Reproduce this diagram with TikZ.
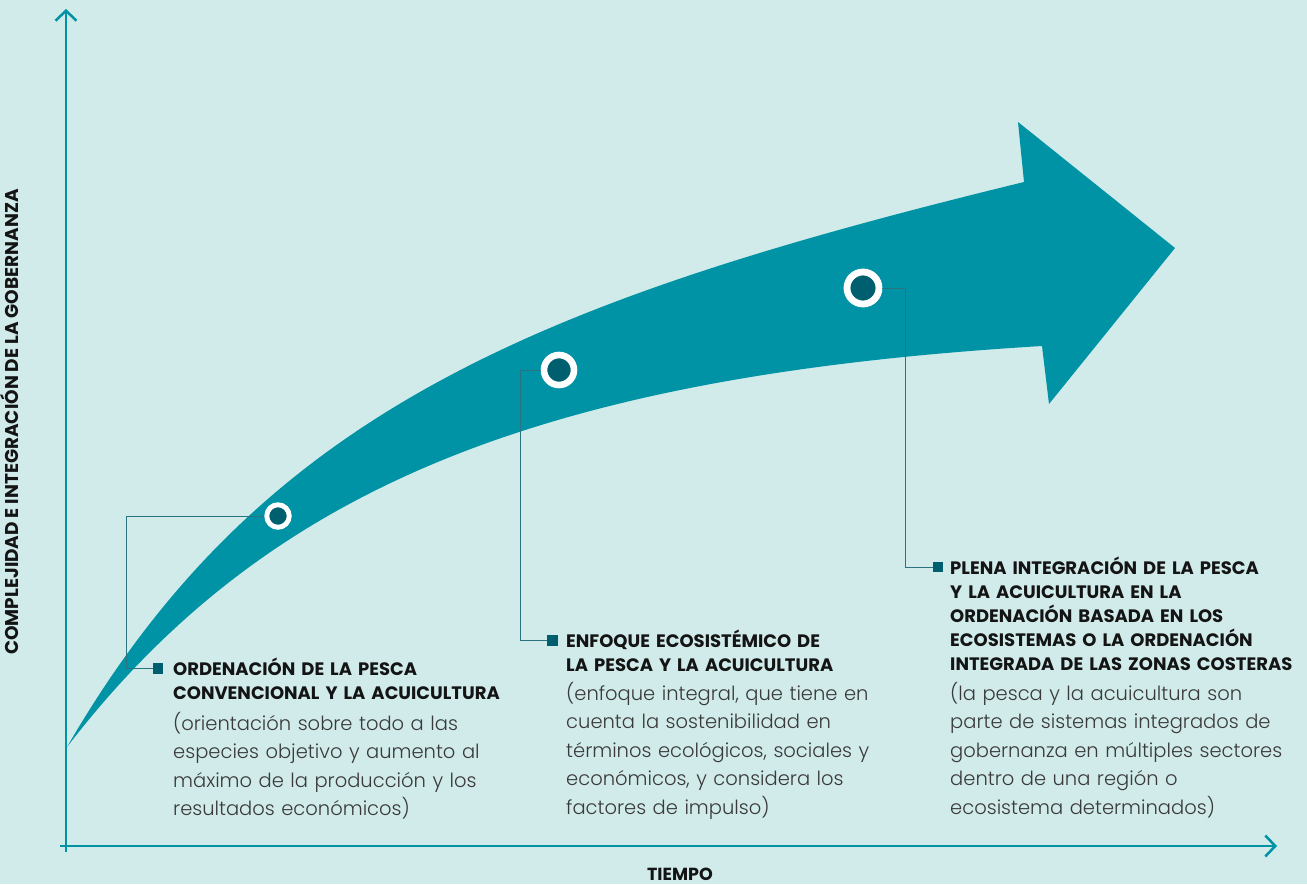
\documentclass[tikz,border=0pt]{standalone}
\usepackage{fontspec}
\setmainfont{Poppins}
\newfontfamily\bodyfont{Poppins Light}
\usetikzlibrary{arrows.meta,positioning}

\definecolor{bgcol}{HTML}{D0EBEA}
\definecolor{bandcol}{HTML}{0093A5}
\definecolor{dotcol}{HTML}{005F6F}
\definecolor{leadcol}{HTML}{2A7480}
\definecolor{titlecol}{HTML}{141414}
\definecolor{bodycol}{HTML}{3A3A3A}

\tikzset{
  axisline/.style={draw=bandcol, line width=2.5pt, -{Straight Barb[length=10pt,width=21pt]}},
  milestone/.style={circle, draw=white, fill=dotcol, inner sep=0pt},
  marker/.style={rectangle, fill=dotcol, minimum size=10.5pt, inner sep=0pt},
  leader/.style={draw=leadcol, line width=1pt},
  headline/.style={anchor=base west, align=left, inner sep=0pt, text width=400pt,
    text=titlecol, font=\bfseries\fontsize{18}{24}\selectfont},
  bodytext/.style={anchor=base west, align=left, inner sep=0pt, text width=400pt,
    text=bodycol, font=\bodyfont\fontsize{19.5}{28.5}\selectfont},
  axislabel/.style={inner sep=0pt, text=titlecol, font=\bfseries\fontsize{18.5}{20}\selectfont}
}

\begin{document}
\begin{tikzpicture}[x=1pt,y=-1pt]
  \fill[bgcol] (0,0) rectangle (1307,884);
  \useasboundingbox (0,0) rectangle (1307,884);

  % flecha curva
  \fill[bandcol] (67,747) .. controls (262,410) and (540,300) .. (1024,182)
    -- (1018,122) -- (1175,248) -- (1049,404) -- (1042,346)
    .. controls (542,376) and (267,487) .. (67,747) -- cycle;

  % ejes
  \coordinate (ybot) at (66,852);
  \coordinate (ytop) at (66,9);
  \coordinate (xleft) at (60,846);
  \coordinate (xright) at (1277,846);
  \draw[axisline] (ybot) -- (ytop);
  \draw[axisline] (xleft) -- (xright);
  \node[axislabel, rotate=90, anchor=base] (ylab) at (18.5,422) {COMPLEJIDAD E INTEGRACIÓN DE LA GOBERNANZA};
  \node[axislabel, anchor=base, font=\bfseries\fontsize{17.5}{20}\selectfont] (xlab) at (680,880) {TIEMPO};

  % hitos
  \node[milestone, line width=4.9pt, minimum size=22.5pt] (m1) at (278,516) {};
  \node[milestone, line width=6.6pt, minimum size=30pt] (m2) at (559,370) {};
  \node[milestone, line width=6.8pt, minimum size=32pt] (m3) at (863,288) {};
  \node[marker] (s1) at (158,668.5) {};
  \node[marker] (s2) at (552.5,640.5) {};
  \node[marker] (s3) at (938,567) {};
  \coordinate (k1) at (126,668.5);
  \coordinate (k2) at (520,640.5);
  \coordinate (k3) at (905,567);
  \draw[leader] (m1.west) -| (k1) -- (s1.west);
  \draw[leader] (m2.west) -| (k2) -- (s2.west);
  \draw[leader] (m3.east) -| (k3) -- (s3.west);

  % textos
  \node[headline] (t1) at (173,675.5) {ORDENACIÓN DE LA PESCA\\CONVENCIONAL Y LA ACUICULTURA};
  \node[bodytext] (b1) at (173,730) {(orientación sobre todo a las\\especies objetivo y aumento al\\máximo de la producción y los\\resultados económicos)};
  \node[headline] (t2) at (566,647.5) {ENFOQUE ECOSISTÉMICO DE\\LA PESCA Y LA ACUICULTURA};
  \node[bodytext] (b2) at (566,700) {(enfoque integral, que tiene en\\cuenta la sostenibilidad en\\términos ecológicos, sociales y\\económicos, y considera los\\factores de impulso)};
  \node[headline] (t3) at (950,574) {PLENA INTEGRACIÓN DE LA PESCA\\Y LA ACUICULTURA EN LA\\ORDENACIÓN BASADA EN LOS\\ECOSISTEMAS O LA ORDENACIÓN\\INTEGRADA DE LAS ZONAS COSTERAS};
  \node[bodytext] (b3) at (950,700) {(la pesca y la acuicultura son\\parte de sistemas integrados de\\gobernanza en múltiples sectores\\dentro de una región o\\ecosistema determinados)};
\end{tikzpicture}
\end{document}
